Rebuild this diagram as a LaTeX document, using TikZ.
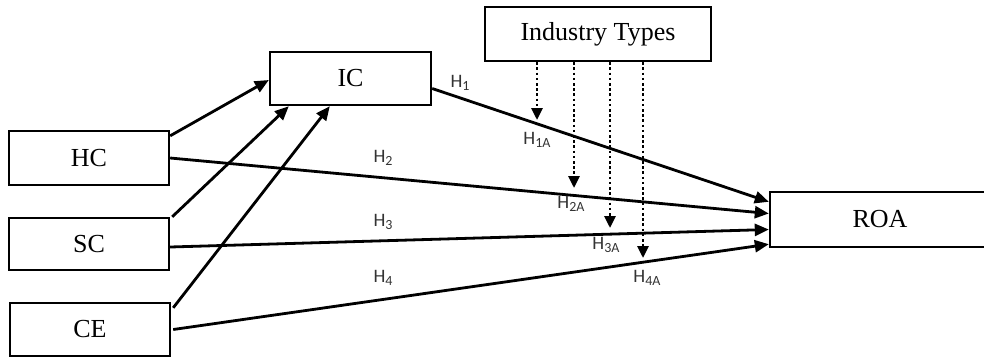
\documentclass[tikz,border=0pt]{standalone}
\usepackage{fontspec}
\setmainfont{Liberation Serif}
\newfontfamily\hfont{Carlito}
\usetikzlibrary{arrows.meta}
\newcommand\Hsub[1]{H{\fontsize{14}{14}\selectfont\raisebox{-3pt}{#1}}}
\begin{document}
\begin{tikzpicture}[x=1pt,y=-1pt,
  box/.style={draw, line width=2.4pt, inner sep=0pt, font=\fontsize{26}{26}\selectfont},
  conn/.style={line width=2.8pt, -{Triangle[length=14pt,width=12pt]}},
  modarrow/.style={line width=2.8pt, dash pattern=on 2.6pt off 2.6pt, -{Triangle[length=12pt,width=11pt]}},
  hlab/.style={font=\hfont\fontsize{19}{19}\selectfont, inner sep=0pt, text=black!80}]
\useasboundingbox (0,0) rectangle (984,360);
\clip (0,0) rectangle (984,360);

% boxes
\node[box, minimum width=161pt, minimum height=53pt] (IC) at (350.5,78.5) {IC};
\node[box, minimum width=160pt, minimum height=54pt] (HC) at (89,158) {HC};
\node[box, minimum width=160pt, minimum height=52pt] (SC) at (89,244) {SC};
\node[box, minimum width=160pt, minimum height=53pt] (CE) at (90,329.5) {CE};
\node[box, minimum width=226pt, minimum height=54pt] (IT) at (598,34) {Industry Types};
\node[box, minimum width=250pt, minimum height=55pt] (ROA) at (895,219.5) {ROA\hspace*{30pt}};

% to IC
\draw[conn] ([yshift=-6pt]HC.north east) -- ([yshift=-1.5pt]IC.west);
\draw[conn] ([xshift=2pt]SC.north east) -- ([xshift=20pt]IC.south west);
\draw[conn] ([xshift=2pt,yshift=-6pt]CE.north east) -- ([xshift=61pt]IC.south west);

% to ROA
\draw[conn] ([yshift=-10pt]IC.east) -- ([yshift=-11pt]ROA.north west);
\draw[conn] (HC.east) -- ([yshift=6pt]ROA.west);
\draw[conn] ([yshift=-3pt]SC.east) -- ([yshift=-10pt]ROA.west);
\draw[conn] ([xshift=2pt]CE.east) -- ([yshift=4pt]ROA.south west);

% moderating arrows
\coordinate (t1) at (537,120);
\coordinate (t2) at (574,188);
\coordinate (t3) at (610,228);
\coordinate (t4) at (643,258);
\draw[modarrow] (IT.south -| t1) -- (t1);
\draw[modarrow] (IT.south -| t2) -- (t2);
\draw[modarrow] (IT.south -| t3) -- (t3);
\draw[modarrow] (IT.south -| t4) -- (t4);

% labels
\node[hlab] (h1) at (460,83) {\Hsub{1}};
\node[hlab] (h2) at (383,158) {\Hsub{2}};
\node[hlab] (h3) at (383,222) {\Hsub{3}};
\node[hlab] (h4) at (383,278) {\Hsub{4}};
\node[hlab] (h1a) at (537,140) {\Hsub{1A}};
\node[hlab] (h2a) at (571,204) {\Hsub{2A}};
\node[hlab] (h3a) at (606,245) {\Hsub{3A}};
\node[hlab] (h4a) at (647,278) {\Hsub{4A}};
\end{tikzpicture}
\end{document}
